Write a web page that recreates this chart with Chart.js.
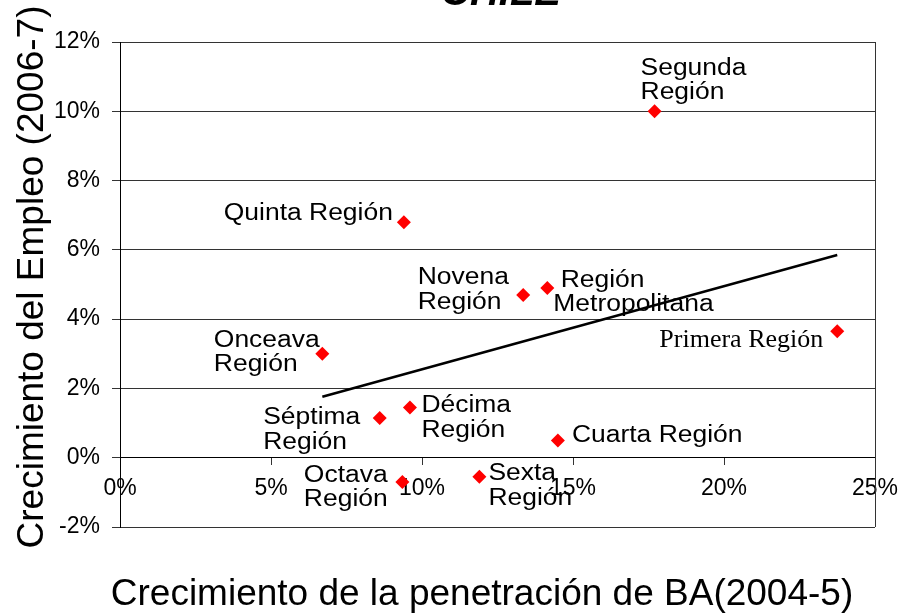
<!DOCTYPE html>
<html>
<head>
<meta charset="utf-8">
<script src="https://cdn.jsdelivr.net/npm/chart.js@4"></script>
<style>
  html, body { margin: 0; padding: 0; background: #fff; }
  #grafico { display: block; }
</style>
</head>
<body>
<canvas id="grafico" width="902" height="613"></canvas>
<script>
// datos (en %)
var regiones = ['Segunda Región', 'Quinta Región', 'Novena Región', 'Región Metropolitana', 'Primera Región',
                'Onceava Región', 'Séptima Región', 'Décima Región', 'Cuarta Región', 'Octava Región', 'Sexta Región'];
var penetracionBA = [17.7, 9.4, 13.35, 14.15, 23.75, 6.7, 8.6, 9.6, 14.5, 9.35, 11.9];
var crecimientoEmpleo = [10.0, 6.8, 4.7, 4.9, 3.65, 3.0, 1.15, 1.45, 0.5, -0.7, -0.55];

// linea de tendencia (extremos)
var tendenciaX = [6.7, 23.75];
var tendenciaY = [1.76, 5.85];

var xTicks = [0, 5, 10, 15, 20, 25];
var yTicks = [-2, 0, 2, 4, 6, 8, 10, 12];

var titulo = 'CHILE';
var tituloX = 'Crecimiento de la penetración de BA(2004-5)';
var tituloY = 'Crecimiento del Empleo (2006-7)';

// como se parte cada etiqueta en lineas
var etiquetas = [
  ['Segunda', 'Región'],
  ['Quinta Región'],
  ['Novena', 'Región'],
  [' Región', 'Metropolitana'],
  ['Primera Región'],
  ['Onceava', 'Región'],
  ['Séptima', 'Región'],
  ['Décima', 'Región'],
  ['Cuarta Región'],
  ['Octava', 'Región'],
  ['Sexta', 'Región']
];

// desplazamiento de la etiqueta respecto al punto (px)
var posEtiqueta = [
  {dx: -14, dy: -36.5, align: 'left'},
  {dx: -11, dy: -2, align: 'right'},
  {dx: -105.5, dy: -10.5, align: 'left'},
  {dx: 6, dy: -1, align: 'left'},
  {dx: -14, dy: 15.5, align: 'right', serif: true},
  {dx: -108.5, dy: -7, align: 'left'},
  {dx: -116.5, dy: 6.5, align: 'left'},
  {dx: 11.5, dy: 5, align: 'left'},
  {dx: 14, dy: 2, align: 'left'},
  {dx: -98.5, dy: 0, align: 'left'},
  {dx: 9, dy: 3.5, align: 'left'}
];

var SANS = "'Liberation Sans', Arial, sans-serif";
var SERIF = "'Liberation Serif', 'Times New Roman', serif";

var puntos = penetracionBA.map(function (x, i) { return {x: x, y: crecimientoEmpleo[i]}; });
var tendencia = tendenciaX.map(function (x, i) { return {x: x, y: tendenciaY[i]}; });

var textosExtra = {
  id: 'textosExtra',
  afterDraw: function (chart) {
    var ctx = chart.ctx;
    var area = chart.chartArea;
    var sx = chart.scales.x, sy = chart.scales.y;

    ctx.save();
    // borde derecho del area
    ctx.strokeStyle = '#333';
    ctx.lineWidth = 1;
    ctx.beginPath();
    ctx.moveTo(Math.round(area.right) + 0.5, area.top);
    ctx.lineTo(Math.round(area.right) + 0.5, area.bottom);
    ctx.stroke();

    ctx.fillStyle = '#000';

    // etiquetas de los puntos
    for (var i = 0; i < regiones.length; i++) {
      var px = sx.getPixelForValue(penetracionBA[i]);
      var py = sy.getPixelForValue(crecimientoEmpleo[i]);
      var p = posEtiqueta[i];
      ctx.save();
      ctx.translate(px + p.dx, py + p.dy);
      if (p.serif) {
        ctx.font = '26px ' + SERIF;
      } else {
        ctx.font = '23px ' + SANS;
        ctx.scale(1.15, 1);
      }
      ctx.textAlign = p.align;
      ctx.textBaseline = 'alphabetic';
      etiquetas[i].forEach(function (linea, k) {
        ctx.fillText(linea, 0, k * 24.5);
      });
      ctx.restore();
    }

    // titulo (cortado arriba)
    ctx.font = 'italic bold 40px ' + SANS;
    ctx.textAlign = 'center';
    ctx.textBaseline = 'alphabetic';
    ctx.fillText(titulo, 501, 5);

    // titulo eje x
    ctx.font = '37px ' + SANS;
    ctx.fillText(tituloX, 482, 605);

    // titulo eje y
    ctx.save();
    ctx.translate(43, 277);
    ctx.rotate(-Math.PI / 2);
    ctx.fillText(tituloY, 0, 0);
    ctx.restore();

    ctx.restore();
  }
};

new Chart(document.getElementById('grafico'), {
  type: 'scatter',
  data: {
    datasets: [{
      label: 'Regiones',
      data: puntos,
      pointStyle: 'rectRot',
      pointRadius: 7,
      backgroundColor: '#ff0000',
      borderColor: '#ff0000',
      borderWidth: 0,
      order: 1
    }, {
      label: 'Tendencia',
      data: tendencia,
      showLine: true,
      borderColor: '#000',
      borderWidth: 2.5,
      pointRadius: 0,
      fill: false,
      order: 2
    }]
  },
  options: {
    responsive: false,
    animation: false,
    layout: { padding: { left: 0, right: 27, top: 42, bottom: 86 } },
    plugins: {
      legend: { display: false },
      tooltip: { enabled: false }
    },
    scales: {
      x: {
        type: 'linear',
        min: xTicks[0],
        max: xTicks[xTicks.length - 1],
        position: { y: 0 },
        afterBuildTicks: function (s) { s.ticks = xTicks.map(function (v) { return {value: v}; }); },
        afterFit: function (s) { s.paddingLeft = 0; s.paddingRight = 0; },
        grid: { drawOnChartArea: false, tickLength: 7, color: '#333' },
        border: { color: '#000' },
        ticks: {
          color: '#000',
          font: { family: SANS, size: 23 },
          padding: 10,
          maxRotation: 0,
          callback: function (v) { return v + '%'; }
        }
      },
      y: {
        min: yTicks[0],
        max: yTicks[yTicks.length - 1],
        afterBuildTicks: function (s) { s.ticks = yTicks.map(function (v) { return {value: v}; }); },
        afterFit: function (s) { s.width = 120; },
        grid: { color: '#333', tickLength: 8 },
        border: { color: '#000' },
        ticks: {
          color: '#000',
          font: { family: SANS, size: 23 },
          padding: 12,
          callback: function (v) { return v + '%'; }
        }
      }
    }
  },
  plugins: [textosExtra]
});
</script>
</body>
</html>
